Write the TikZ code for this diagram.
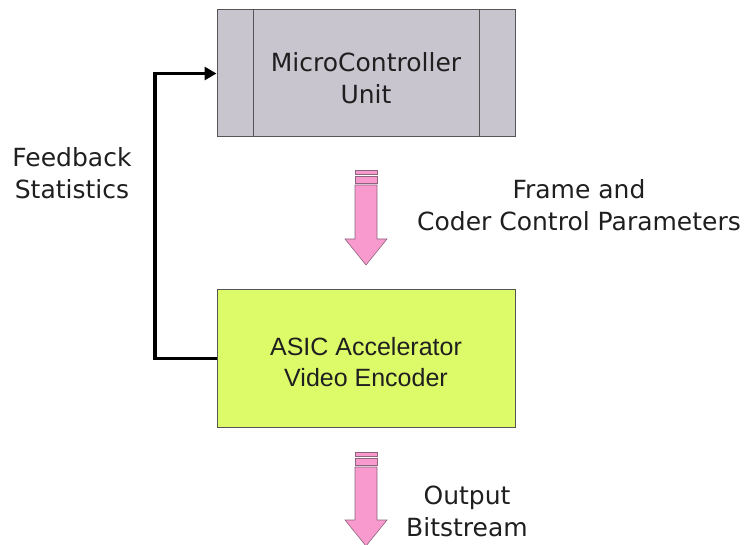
\documentclass[tikz,border=0pt]{standalone}
\usepackage{fontspec}
\setmainfont{DejaVu Sans}
\newfontfamily\arialfont{Liberation Sans}
\usetikzlibrary{arrows.meta}
\definecolor{mcugray}{RGB}{201,197,206}
\definecolor{asicgreen}{RGB}{221,250,104}
\definecolor{boxedge}{RGB}{85,85,85}
\definecolor{pinkfill}{RGB}{248,154,206}
\definecolor{pinkedge}{RGB}{140,100,125}
\tikzset{
  blockbox/.style={draw=boxedge, line width=1pt, minimum width=298pt, inner sep=0pt},
  lbl/.style={font=\fontsize{25}{32}\selectfont, align=center, inner sep=0pt, text=black!88},
  feedback/.style={line width=3.5pt, -{Triangle[length=12pt,width=13pt]}},
  pinkarrow/.style={fill=pinkfill, draw=pinkedge, line width=0.6pt, line join=miter}
}
\newcommand{\pinkdown}[3]{% x, top y, tip y
  \draw[pinkarrow] (#1-11,#2) rectangle (#1+11,#2+4);
  \draw[pinkarrow] (#1-11,#2+6) rectangle (#1+11,#2+13);
  \draw[pinkarrow] (#1-11,#2+15) -- (#1+11,#2+15) -- (#1+11,#3-26) -- (#1+21,#3-26)
     -- (#1,#3) -- (#1-21,#3-26) -- (#1-11,#3-26) -- cycle;
}
\begin{document}
\begin{tikzpicture}[x=1pt,y=-1pt]
\useasboundingbox (0,0) rectangle (750,545);
% MCU
\node[blockbox, fill=mcugray, minimum height=127pt] (mcu) at (366,73.5) {};
\draw[boxedge, line width=1pt] (253,10) -- (253,137);
\draw[boxedge, line width=1pt] (479,10) -- (479,137);
\node[lbl] (mcutext) at (366,78) {MicroController\\Unit};
% ASIC
\node[blockbox, fill=asicgreen, minimum height=137pt] (asic) at (366,358.5) {};
\node[lbl, font=\arialfont\fontsize{25}{31}\selectfont] (asictext) at (366,362) {ASIC Accelerator\\Video Encoder};
% feedback
\coordinate (fbcorner1) at (155,358.5);
\coordinate (fbcorner2) at (155,73.5);
\draw[feedback] (asic.west) -- (fbcorner1) -- (fbcorner2) -- (mcu.west);
\node[lbl] (fbtext) at (72,173) {Feedback\\Statistics};
% pink arrows
\pinkdown{366}{170}{265}
\pinkdown{366}{452}{546}
\node[lbl] (ctrltext) at (579,205) {Frame and\\Coder Control Parameters};
\node[lbl] (outtext) at (467,511) {Output\\Bitstream};
\end{tikzpicture}
\end{document}
